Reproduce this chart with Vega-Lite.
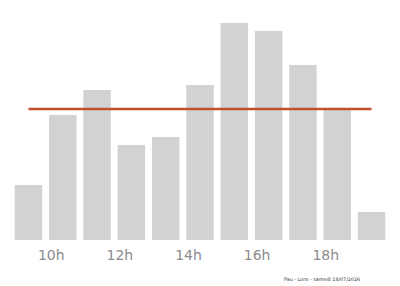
{
  "$schema": "https://vega.github.io/schema/vega-lite/v6.json",
  "width": 400,
  "height": 240,
  "autosize": {"type": "none"},
  "padding": {"left": 0, "right": 0, "top": 0, "bottom": 46},
  "background": "white",
  "config": {"view": {"stroke": null}},
  "title": {
    "text": "Pau - Lons - samedi 18/07/2026",
    "orient": "bottom",
    "anchor": "end",
    "fontSize": 4.8,
    "fontWeight": "normal",
    "font": "DejaVu Sans",
    "color": "#333333",
    "dx": -40,
    "offset": 15
  },
  "data": {
    "values": [
      {"heure": "9h", "valeur": 55},
      {"heure": "10h", "valeur": 125},
      {"heure": "11h", "valeur": 150},
      {"heure": "12h", "valeur": 95},
      {"heure": "13h", "valeur": 103},
      {"heure": "14h", "valeur": 155},
      {"heure": "15h", "valeur": 217},
      {"heure": "16h", "valeur": 209},
      {"heure": "17h", "valeur": 175},
      {"heure": "18h", "valeur": 130},
      {"heure": "19h", "valeur": 28}
    ]
  },
  "encoding": {
    "x": {
      "field": "heure",
      "type": "ordinal",
      "sort": null,
      "scale": {"paddingInner": 0.2, "paddingOuter": 0.43},
      "axis": {
        "title": null,
        "values": ["10h", "12h", "14h", "16h", "18h"],
        "domain": false,
        "ticks": false,
        "labelAngle": 0,
        "labelFont": "DejaVu Sans",
        "labelFontSize": 14,
        "labelColor": "#8c8c8c",
        "labelOffset": -11.5,
        "labelPadding": 8
      }
    }
  },
  "layer": [
    {
      "mark": {"type": "bar", "color": "#d3d2d3"},
      "encoding": {
        "y": {"field": "valeur", "type": "quantitative", "scale": {"domain": [0, 240], "nice": false}, "axis": null}
      }
    },
    {
      "transform": [{"joinaggregate": [{"op": "mean", "field": "valeur", "as": "moyenne"}]}],
      "mark": {"type": "line", "color": "#c2502a", "strokeWidth": 2.5},
      "encoding": {
        "y": {"field": "moyenne", "type": "quantitative"}
      }
    }
  ]
}
